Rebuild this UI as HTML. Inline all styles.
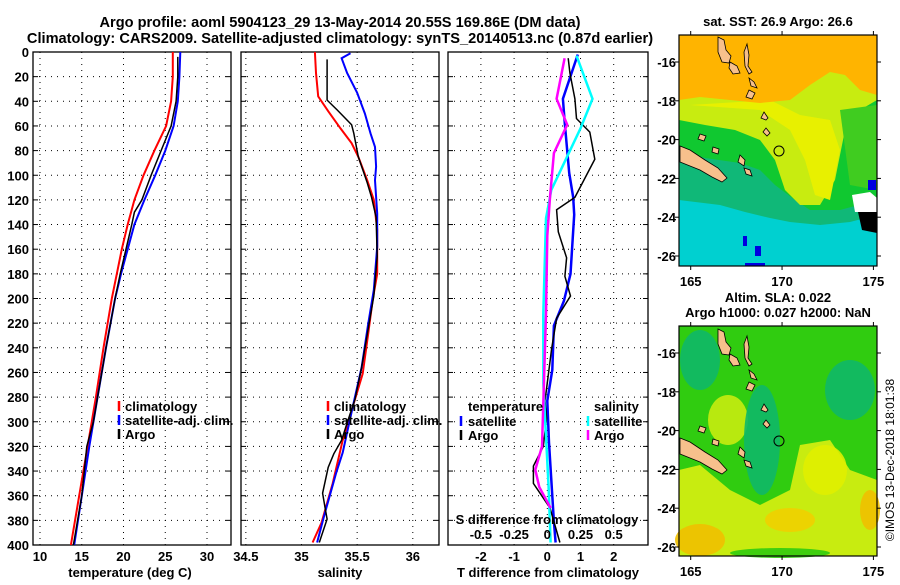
<!DOCTYPE html>
<html><head><meta charset="utf-8">
<style>
body{margin:0;background:#fff;}
svg text{font-family:"Liberation Sans",sans-serif;font-weight:bold;font-size:13px;fill:#000;}
</style></head>
<body>
<svg id="c" width="900" height="580" viewBox="0 0 900 580" xmlns="http://www.w3.org/2000/svg">
<text x="340" y="27" text-anchor="middle" style="font-size:14.6px">Argo profile: aoml 5904123_29 13-May-2014 20.55S 169.86E (DM data)</text>
<text x="340" y="43" text-anchor="middle" style="font-size:14.6px">Climatology: CARS2009. Satellite-adjusted climatology: synTS_20140513.nc (0.87d earlier)</text>
<text x="778" y="26" text-anchor="middle">sat. SST: 26.9 Argo: 26.6</text>
<text x="778" y="302" text-anchor="middle">Altim. SLA: 0.022</text>
<text x="778" y="317" text-anchor="middle">Argo h1000: 0.027 h2000: NaN</text>
<text transform="translate(894,460) rotate(-90)" text-anchor="middle" style="font-weight:normal;font-size:12px">©IMOS 13-Dec-2018 18:01:38</text>
<g id="plots"></g>
</svg>
<script>
// ---- data ----
const depthTicks=[0,20,40,60,80,100,120,140,160,180,200,220,240,260,280,300,320,340,360,380,400];
const tempTicks=[10,15,20,25,30];
const salTicks=[34.5,35,35.5,36];
const salTickLabels=["34.5","35","35.5","36"];
const tdTicks=[-2,-1,0,1,2];
const sdTickLabels=["-0.5","-0.25","0","0.25","0.5"];
const sdTicks=[-0.5,-0.25,0,0.25,0.5];

const tClimD=[0,20,40,60,80,100,120,140,160,180,200,240,280,320,360,400];
const tClim=[25.9,25.9,25.7,25.1,23.7,22.4,21.3,20.5,19.8,19.2,18.6,17.6,16.7,15.7,14.7,13.7];
const tSatD=[0,20,40,60,80,100,120,140,160,180,200,240,280,320,360,400];
const tSat=[26.8,26.7,26.5,26.0,25.0,23.8,22.5,21.3,20.5,19.7,19.0,17.9,16.9,15.9,15.0,14.1];
const tArgoD=[4,20,40,60,80,100,120,130,140,160,180,200,240,280,300,320,340,360,380,400];
const tArgo=[26.5,26.5,26.3,25.7,24.5,23.3,22.2,21.3,21.0,20.3,19.6,19.0,17.9,16.9,16.4,15.6,15.3,15.0,14.5,14.0];

const sClimD=[0,17,36,48,62,74,85,104,120,144,180,201,228,261,288,315,350,382,398];
const sClim=[35.12,35.13,35.15,35.24,35.35,35.45,35.51,35.59,35.65,35.68,35.68,35.64,35.6,35.55,35.46,35.37,35.28,35.18,35.1];
const sSatD=[1,5,17,33,50,66,77,93,104,131,158,193,220,256,288,325,342,374,398];
const sSat=[35.44,35.36,35.41,35.5,35.57,35.62,35.66,35.67,35.66,35.68,35.68,35.65,35.6,35.54,35.46,35.37,35.31,35.21,35.14];
const sArgoD=[6,39,47,59,66,85,106,118,134,166,198,224,256,282,301,315,326,337,358,369,379,398];
const sArgo=[35.23,35.23,35.32,35.45,35.47,35.51,35.59,35.63,35.67,35.68,35.65,35.6,35.54,35.48,35.41,35.36,35.29,35.24,35.19,35.21,35.23,35.16];

const dTSatD=[2,38,59,98,118,132,180,202,222,258,283,317,381,398];
const dTSat=[0.92,0.47,0.53,0.66,0.78,0.81,0.7,0.5,0.2,0.15,0.0,0.05,0.2,0.25];
const dTArgoD=[5,17,38,54,65,87,118,128,146,167,182,198,216,241,283,297,320,336,350,370,398];
const dTArgo=[0.63,0.68,0.83,0.88,1.28,1.43,0.83,0.28,0.33,0.58,0.53,0.7,0.28,0.13,-0.07,-0.02,-0.12,-0.42,-0.42,0.08,0.38];
const dSSatD=[3,38,62,87,112,135,213,269,353,398];
const dSSat=[0.22,0.34,0.25,0.14,0.03,-0.01,-0.03,-0.03,0.01,0.025];
const dSArgoD=[5,38,59,82,118,149,213,320,339,353,370];
const dSArgo=[0.13,0.07,0.15,0.05,0.02,0,-0.01,-0.04,-0.09,-0.06,0.025];

const mapLonTicks=[165,170,175];
const mapLatTicks=[-16,-18,-20,-22,-24,-26];

// ---- helpers ----
const NS="http://www.w3.org/2000/svg";
const root=document.getElementById('plots');
function mk(tag,attrs,parent){const e=document.createElementNS(NS,tag);for(const k in attrs)e.setAttribute(k,attrs[k]);(parent||root).appendChild(e);return e;}
const Y0=52,Y1=545;
const yD=d=>Y0+(d/400)*(Y1-Y0);
function panel(x0,x1,name,xTicks,xf){
  const g=mk('g',{});
  
  
  depthTicks.forEach(d=>{if(d>0&&d<400)mk('line',{x1:x0,x2:x1,y1:yD(d),y2:yD(d),stroke:'#000','stroke-dasharray':'1,5'},g);});
  xTicks.forEach(v=>mk('line',{x1:xf(v),x2:xf(v),y1:Y0,y2:Y1,stroke:'#000','stroke-dasharray':'1,5'},g));
  depthTicks.forEach(d=>{
    mk('line',{x1:x0,x2:x0+5,y1:yD(d),y2:yD(d),stroke:'#000'},g);
    mk('line',{x1:x1-5,x2:x1,y1:yD(d),y2:yD(d),stroke:'#000'},g);
  });
  mk('rect',{x:x0,y:Y0,width:x1-x0,height:Y1-Y0,fill:'none',stroke:'#000','stroke-width':1.3},g);
  return g;
}
function line(xs,ds,xf,color,name,w){
  const p=mk('polyline',{points:xs.map((v,i)=>xf(v).toFixed(1)+','+yD(ds[i]).toFixed(1)).join(' '),fill:'none',stroke:color,'stroke-width':w||2});
  
  
}
function txt(x,y,s,name,anchor){const t=mk('text',{x:x,y:y,'text-anchor':anchor||'start'});t.textContent=s;
  
  return t;}
function legendMark(x,y,color){mk('line',{x1:x,x2:x,y1:y-10,y2:y,stroke:color,'stroke-width':2.5});}

// panel 1 temperature
const xT=v=>40+(v-10)*8.35;
panel(33,231,'temperature-panel',tempTicks,xT);
depthTicks.forEach(d=>txt(29,yD(d)+5,String(d),'depth-tick-label','end'));
tempTicks.forEach(v=>txt(xT(v),561,String(v),'temperature-tick-label','middle'));
txt(130,577,'temperature (deg C)','temperature-axis-title','middle');
line(tClim,tClimD,xT,'#f00','temp-climatology-line');
line(tSat,tSatD,xT,'#00f','temp-satellite-line');
line(tArgo,tArgoD,xT,'#000','temp-argo-line',1.5);
legendMark(119,411,'#f00');txt(125,411,'climatology','legend-climatology');
legendMark(119,425,'#00f');txt(125,425,'satellite-adj. clim.','legend-satellite');
legendMark(119,439,'#000');txt(125,439,'Argo','legend-argo');

// panel 2 salinity
const xS=v=>301.5+(v-35)*111.3;
panel(241,439,'salinity-panel',salTicks,xS);
salTicks.forEach((v,i)=>txt(xS(v),561,salTickLabels[i],'salinity-tick-label','middle'));
txt(340,577,'salinity','salinity-axis-title','middle');
line(sClim,sClimD,xS,'#f00','sal-climatology-line');
line(sSat,sSatD,xS,'#00f','sal-satellite-line');
line(sArgo,sArgoD,xS,'#000','sal-argo-line',1.5);
legendMark(328,411,'#f00');txt(334,411,'climatology','legend-climatology');
legendMark(328,425,'#00f');txt(334,425,'satellite-adj. clim.','legend-satellite');
legendMark(328,439,'#000');txt(334,439,'Argo','legend-argo');

// panel 3 differences
const xDT=v=>547.3+v*33.2;
const xDS=v=>547.3+v*4*33.2;
panel(448,648,'difference-panel',tdTicks,xDT);
tdTicks.forEach(v=>txt(xDT(v),561,String(v),'tdiff-tick-label','middle'));
txt(548,577,'T difference from climatology','tdiff-axis-title','middle');
line(dTSat,dTSatD,xDT,'#00f','tdiff-satellite-line',2.5);
line(dTArgo,dTArgoD,xDT,'#000','tdiff-argo-line',1.5);
line(dSSat,dSSatD,xDS,'#0ff','sdiff-satellite-line',2.5);
line(dSArgo,dSArgoD,xDS,'#f0f','sdiff-argo-line',2.5);
txt(547,524,'S difference from climatology','sdiff-axis-title','middle');
sdTicks.forEach((v,i)=>txt(xDS(v),539,sdTickLabels[i],'sdiff-tick-label','middle'));
txt(468,411,'temperature','legend-temperature-header');
legendMark(461,426,'#00f');txt(468,426,'satellite','legend-t-satellite');
legendMark(461,440,'#000');txt(468,440,'Argo','legend-t-argo');
txt(594,411,'salinity','legend-salinity-header');
legendMark(588,426,'#0ff');txt(594,426,'satellite','legend-s-satellite');
legendMark(588,440,'#f0f');txt(594,440,'Argo','legend-s-argo');

// ---- maps ----
function mapAxes(y0,y1,latTop,name){
  const X0=679,X1=877;
  const lx=v=>690.7+(v-165)*18.27;
  const ly=v=>latTop+(-16-v)*19.4;
  const g=mk('g',{});
  
  
  mapLonTicks.forEach(v=>{mk('line',{x1:lx(v),x2:lx(v),y1:y0,y2:y0-4,stroke:'#000'},g);mk('line',{x1:lx(v),x2:lx(v),y1:y1,y2:y1+4,stroke:'#000'},g);
    txt(lx(v),y1+20,String(v),'map-lon-label','middle');});
  mapLatTicks.forEach(v=>{mk('line',{x1:X1,x2:X1+4,y1:ly(v),y2:ly(v),stroke:'#000'},g);mk('line',{x1:X0,x2:X0-4,y1:ly(v),y2:ly(v),stroke:'#000'},g);
    txt(X0-3,ly(v)+5,String(v),'map-lat-label','end');});
  mk('rect',{x:X0,y:y0,width:X1-X0,height:y1-y0,fill:'none',stroke:'#000','stroke-width':1.2},g);
  return {lx,ly};
}
function land(dy,g){
  const f='#f7c08c';
  const polys=[
   "680,146 690,150 705,160 718,168 727,178 722,182 712,177 700,170 680,162",
   "718,37 724,40 726,50 731,56 729,63 722,62 718,52",
   "730,62 737,66 740,73 733,74 729,68",
   "747,44 749,55 748,66 752,72 749,74 745,66 744,52",
   "749,78 754,82 757,88 751,86",
   "749,90 755,93 752,99 746,97",
   "764,112 768,118 766,120 761,118",
   "766,128 770,133 767,136 763,132",
   "740,155 745,160 744,166 738,162",
   "744,168 750,170 752,176 746,174",
   "700,134 706,136 704,141 698,139",
   "713,147 719,149 718,154 712,152"];
  polys.forEach(p=>{const e=mk('polygon',{points:p.split(' ').map(s=>{const [a,b]=s.split(',');return a+','+(+b+dy);}).join(' '),fill:f,stroke:'#000','stroke-width':0.8},g);
    });
}
// top SST map
(function(){
  const g=mk('g',{});
  
  
  mk('rect',{x:679,y:35,width:198,height:231,fill:'#00d0d0'},g);
  mk('polygon',{points:"679,35 877,35 877,215 850,222 820,225 790,222 770,218 745,212 720,205 679,200",fill:'#10b878'},g);
  mk('polygon',{points:"679,35 877,35 877,200 840,210 810,210 795,200 775,185 760,170 740,163 705,158 679,150",fill:'#10c830'},g);
  mk('polygon',{points:"679,35 877,35 877,100 860,110 845,130 835,180 820,205 800,205 785,190 775,160 760,140 735,130 705,125 679,120",fill:'#c8ec10'},g);
  mk('polygon',{points:"690,105 760,110 790,130 805,160 815,195 830,200 840,150 830,120 800,115 770,100",fill:'#e8f000'},g);
  mk('polygon',{points:"679,35 877,35 877,95 860,90 845,75 830,72 810,85 790,100 760,103 730,100 700,97 679,100",fill:'#ffb400'},g);
  mk('polygon',{points:"840,110 877,105 877,190 850,185",fill:'#40cc20'},g);
  mk('polygon',{points:"852,195 870,192 877,198 877,212 855,212",fill:'#fff'},g);
  mk('polygon',{points:"858,212 877,212 877,233 862,230",fill:'#000'},g);
  mk('rect',{x:868,y:180,width:8,height:10,fill:'#0000e0'},g);
  mk('rect',{x:743,y:236,width:4,height:10,fill:'#0000e0'},g);
  mk('rect',{x:755,y:246,width:6,height:10,fill:'#0000e0'},g);
  mk('rect',{x:745,y:263,width:20,height:3,fill:'#0000e0'},g);
  land(0,g);
  mk('circle',{cx:779,cy:151,r:5,fill:'none',stroke:'#000','stroke-width':1},g);
})();
mapAxes(35,266,62,'sst-map-axes');
// bottom SLA map
(function(){
  const g=mk('g',{});
  
  
  mk('rect',{x:679,y:326,width:198,height:230,fill:'#30cc10'},g);
  mk('polygon',{points:"679,470 700,465 730,490 760,505 790,490 800,445 830,440 850,470 877,480 877,556 679,556",fill:'#c8ec10'},g);
  [[728,420,20,25,'#c8ec10'],[762,440,18,55,'#10b868'],[700,360,20,30,'#10b868'],[850,390,25,30,'#10b868'],
   [825,470,22,25,'#e0f000'],[700,540,25,16,'#f0c000'],[790,520,25,12,'#f0d000'],[870,510,10,20,'#f0c000'],
   [780,553,50,5,'#30cc10']]
   .forEach(e=>mk('ellipse',{cx:e[0],cy:e[1],rx:e[2],ry:e[3],fill:e[4],opacity:0.9},g));
  land(292,g);
  mk('circle',{cx:779,cy:441,r:5,fill:'none',stroke:'#000','stroke-width':1},g);
})();
mapAxes(326,556,353,'sla-map-axes');
</script>
</body></html>
